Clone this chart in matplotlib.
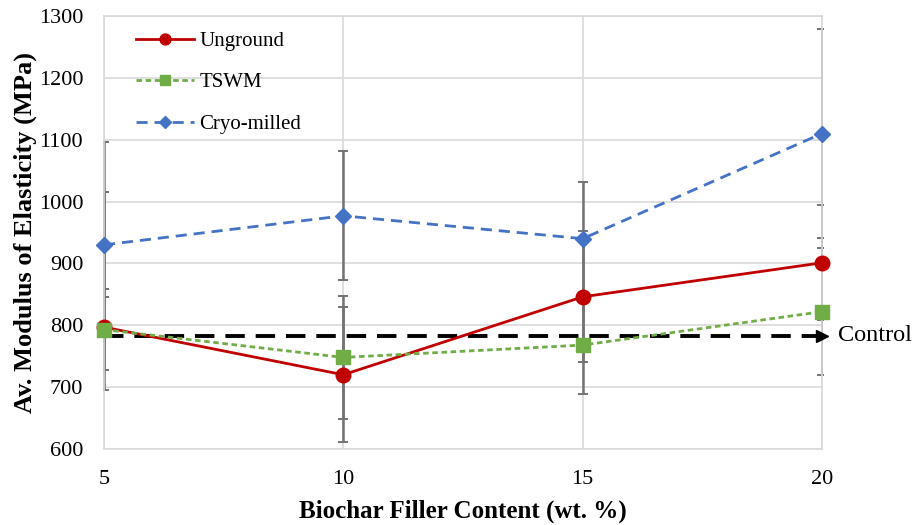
import matplotlib.pyplot as plt
from matplotlib.transforms import Bbox, TransformedBbox

# filler loading (wt. %)
filler = [5, 10, 15, 20]

# average modulus of elasticity (MPa) and error bar half-widths
unground = [797, 720, 846, 901]
unground_err_lo = [102, 109, 106, 93]
unground_err_hi = [300, 109, 106, 93]

tswm = [793, 748, 768, 822]
tswm_err = [66, 100, 79, 103]

cryo = [930, 977, 940, 1110]
cryo_err = [85, 104, 91, 169]

control = 783

plt.rcParams['font.family'] = ['Liberation Serif', 'DejaVu Serif']

fig = plt.figure(figsize=(9.14, 5.25), dpi=100)
ax = fig.add_axes([0.1138, 0.1448, 0.7855, 0.8247])

# clip error bars to the plot height, but let the bars on the edges show fully
eb_clip = TransformedBbox(Bbox([[-0.002, 0], [1.002, 1]]), ax.transAxes)

err_col = '#737373'
ekw = dict(fmt='none', ecolor=err_col, elinewidth=1.8, capsize=3.6, capthick=1.4, zorder=2)
for y, e in [(unground, [unground_err_lo, unground_err_hi]), (tswm, tswm_err), (cryo, cryo_err)]:
    eb = ax.errorbar(filler, y, yerr=e, **ekw)
    for art in eb.lines[1] + eb.lines[2]:
        art.set_clip_box(eb_clip)

# control reference: dashed line ending in an arrow head
ax.plot([filler[0], filler[-1] - 0.12], [control, control], color='black', lw=2.8,
        dashes=(5, 2.8), zorder=3, clip_on=False)
ax.plot([filler[-1]], [control], marker='>', color='black', ms=9, zorder=3, clip_on=False)
ax.text(filler[-1] + 0.33, control, 'Control', fontsize=17.5, va='center', ha='left')

ax.plot(filler, unground, color='#c00000', lw=2, marker='o', ms=10.5,
        label='Unground', zorder=5, clip_on=False)
ax.plot(filler, tswm, color='#70ad47', lw=2, dashes=(2, 1.3), marker='s', ms=10.5,
        label='TSWM', zorder=6, clip_on=False)
ax.plot(filler, cryo, color='#4472c4', lw=2, dashes=(4, 2.5), marker='D', ms=8.5,
        label='Cryo-milled', zorder=4, clip_on=False)

ax.set_xlim(5, 20)
ax.set_ylim(600, 1300)
ax.set_xticks([5, 10, 15, 20])
ax.set_yticks(range(600, 1301, 100))
ax.tick_params(length=0, labelsize=16)
ax.tick_params(axis='y', pad=15)
ax.tick_params(axis='x', pad=15)
ax.grid(True, color='#d9d9d9', lw=1.2)
ax.set_axisbelow(True)
for s in ax.spines.values():
    s.set_color('#d9d9d9')
    s.set_linewidth(1.2)

ax.set_xlabel('Biochar Filler Content (wt. %)', fontsize=18, fontweight='bold', labelpad=8)
ax.set_ylabel('Av. Modulus of Elasticity (MPa)', fontsize=19, fontweight='bold', labelpad=1)

leg = ax.legend(loc='upper left', bbox_to_anchor=(0.018, 1.008), frameon=False,
                fontsize=15, labelspacing=1.05, handlelength=2.8, handletextpad=0.25,
                markerscale=0.75)

fig.savefig('out.png', dpi=100)
